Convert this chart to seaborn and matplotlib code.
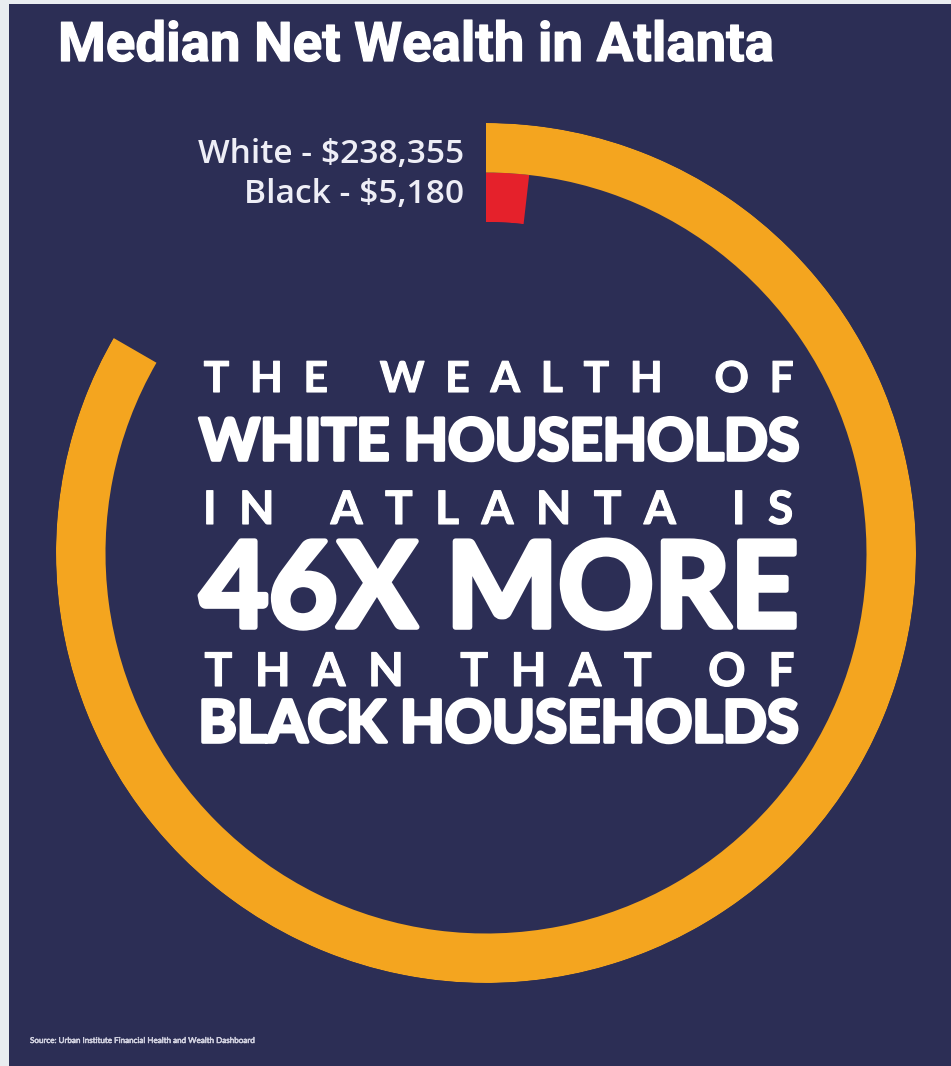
import numpy as np
import pandas as pd
import matplotlib
matplotlib.use("Agg")
import matplotlib.pyplot as plt
import matplotlib.patheffects as pe
from matplotlib.patches import Rectangle
import seaborn as sns

# ---- data -------------------------------------------------------------
groups = ["White", "Black"]
median_wealth = [238355, 5180]
value_labels = ["White - $238,355", "Black - $5,180"]
title = "Median Net Wealth in Atlanta"
headline = [
    "THE WEALTH OF",
    "WHITE HOUSEHOLDS",
    "IN ATLANTA IS",
    "46X MORE",
    "THAN THAT OF",
    "BLACK HOUSEHOLDS",
]
source = "Source: Urban Institute Financial Health and Wealth Dashboard"

# ---- style ------------------------------------------------------------
W, H = 951, 1066
NAVY = "#2C2E55"
ORANGE = "#F4A51F"
RED = "#E5212B"
EDGE = "#E9EDF0"

sns.set_theme(style="white")
plt.rcParams["font.family"] = ["Lato", "DejaVu Sans"]

fig = plt.figure(figsize=(W / 100, H / 100), dpi=100, facecolor=EDGE)
fig.add_artist(Rectangle((9 / W, 0), 1 - 9 / W, 1 - 4 / H,
                         transform=fig.transFigure, facecolor=NAVY,
                         edgecolor="none", zorder=0))

# ---- radial bars ------------------------------------------------------
cx, cy, R = 486, 553, 430          # ring centre and outer radius (px)
ax = fig.add_axes([(cx - R) / W, (H - cy - R) / H, 2 * R / W, 2 * R / H],
                  projection="polar")
ax.set_facecolor("none")

# the largest bar sweeps 300 degrees of the ring
ring_full = median_wealth[0] * 360 / 300
df = pd.DataFrame({"group": groups, "wealth": median_wealth})
df["theta"] = 2 * np.pi * df["wealth"] / ring_full

sns.barplot(data=df, x="theta", y="group", hue="group",
            order=["Black", "White"], hue_order=["Black", "White"],
            palette={"White": ORANGE, "Black": RED}, orient="h",
            width=1.0, saturation=1, linewidth=0, errorbar=None,
            legend=False, ax=ax)

ax.set_theta_zero_location("N")
ax.set_theta_direction(-1)
ax.set_xlim(0, 2 * np.pi)
ax.set_ylim(-0.5, 1.5)
ax.set_rorigin(1.5 - R / 49.5)
ax.set_axis_off()

# ---- text -------------------------------------------------------------
renderer = fig.canvas.get_renderer()


def px(x, y):
    return x / W, 1 - y / H


def fit(t, width):
    w = t.get_window_extent(renderer).width
    t.set_fontsize(t.get_fontsize() * width / w)
    return t


def heavy(lw):
    return [pe.withStroke(linewidth=lw, foreground="white")]


def spaced(s, gap="  ", word_gap="     "):
    return word_gap.join(gap.join(word) for word in s.split(" "))


t = fig.text(*px(58, 61), title, color="white", fontsize=34,
             fontweight="bold", family=["Roboto", "DejaVu Sans"],
             ha="left", va="baseline", path_effects=heavy(0.9))
fit(t, 716)

lab_font = ["Open Sans", "DejaVu Sans"]
lab_w = fig.text(*px(464, 163), value_labels[0], color="#EEEEF6",
                 fontsize=18, fontweight="semibold", family=lab_font,
                 ha="right", va="baseline")
fit(lab_w, 266)
fig.text(*px(464, 203), value_labels[1], color="#EEEEF6",
         fontsize=lab_w.get_fontsize(), fontweight="semibold",
         family=lab_font, ha="right", va="baseline")

baselines = [392, 460, 524, 627, 686, 742]
strokes = {1: 2.6, 3: 4.0, 5: 2.6}
for i, (line, yb) in enumerate(zip(headline, baselines)):
    if i % 2 == 0:
        tt = fig.text(*px(499, yb), spaced(line), color="white", fontsize=30,
                      fontweight="bold", ha="center", va="baseline",
                      path_effects=heavy(0.8))
        fit(tt, 590)
    else:
        lw = strokes[i]
        tt = fig.text(*px(499, yb), line, color="white", fontsize=40,
                      fontweight="bold", ha="center", va="baseline",
                      path_effects=heavy(lw))
        fit(tt, 604 - lw * 100 / 72)

ts = fig.text(*px(30, 1043), source, color="#C8C8DC", fontsize=6,
              ha="left", va="baseline", path_effects=heavy(0.3))
fit(ts, 226)

fig.savefig("out.png", dpi=100, facecolor=EDGE)
